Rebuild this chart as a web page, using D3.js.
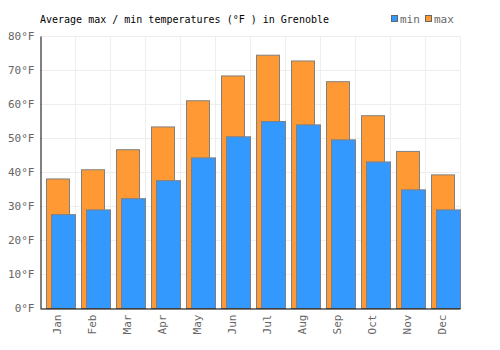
<!DOCTYPE html>
<html>
<head>
<meta charset="utf-8">
<script src="https://cdn.jsdelivr.net/npm/d3@7"></script>
<style>
  body { margin: 0; background: #fff; }
  text { font-family: "DejaVu Sans Mono", monospace; }
</style>
</head>
<body>
<div id="chart-area"></div>
<script>
// data
let months = ["Jan","Feb","Mar","Apr","May","Jun","Jul","Aug","Sep","Oct","Nov","Dec"];
let maxTemps = [38.1, 40.8, 46.7, 53.4, 61.1, 68.4, 74.5, 72.8, 66.7, 56.7, 46.2, 39.3];
let minTemps = [27.6, 29.0, 32.3, 37.6, 44.3, 50.5, 55.0, 54.0, 49.6, 43.1, 34.9, 29.0];
let yTicks = [0, 10, 20, 30, 40, 50, 60, 70, 80];

let width = 500,
	height = 350;

let plotLeft = 40, plotRight = 460, plotTop = 36, plotBottom = 308;

let svg = d3.select("#chart-area")
	.append("svg")
	.attr("width", width)
	.attr("height", height);

let x = d3.scaleBand()
	.domain(months)
	.range([plotLeft, plotRight]);

let y = d3.scaleLinear()
	.domain([0, 80])
	.range([plotBottom, plotTop]);

// grid
svg.append("g")
	.selectAll("line")
	.data(yTicks)
	.enter()
	.append("line")
	.attr("x1", plotLeft).attr("x2", plotRight)
	.attr("y1", d => y(d) + 0.5).attr("y2", d => y(d) + 0.5)
	.attr("stroke", "#eeeeee");

svg.append("g")
	.selectAll("line")
	.data(months)
	.enter()
	.append("line")
	.attr("x1", d => x(d) + x.bandwidth() + 0.5)
	.attr("x2", d => x(d) + x.bandwidth() + 0.5)
	.attr("y1", plotTop).attr("y2", plotBottom)
	.attr("stroke", "#eeeeee");

// max bars
svg.append("g")
	.selectAll("rect")
	.data(months)
	.enter()
	.append("rect")
	.attr("x", d => x(d) + 6.5)
	.attr("y", (d, i) => y(maxTemps[i]) + 0.5)
	.attr("width", 23)
	.attr("height", (d, i) => plotBottom - y(maxTemps[i]))
	.attr("fill", "#ff9933")
	.attr("stroke", "#808080");

// min bars
svg.append("g")
	.selectAll("rect")
	.data(months)
	.enter()
	.append("rect")
	.attr("x", d => x(d) + 11.5)
	.attr("y", (d, i) => y(minTemps[i]) + 0.5)
	.attr("width", 24)
	.attr("height", (d, i) => plotBottom - y(minTemps[i]))
	.attr("fill", "#3399ff")
	.attr("stroke", "#808080");

// axes
let yAxis = d3.axisLeft(y)
	.tickValues(yTicks)
	.tickSize(0)
	.tickPadding(6)
	.tickFormat(d => d + "°F");

svg.append("g")
	.attr("class", "axis y-axis")
	.attr("transform", "translate(" + (plotLeft + 0.5) + ",0)")
	.call(yAxis)
	.call(g => g.select(".domain").attr("stroke", "#000"))
	.call(g => g.selectAll("text").attr("fill", "#666").style("font-size", "11px")
		.style("font-family", "'DejaVu Sans Mono', monospace"));

let xAxis = d3.axisBottom(x)
	.tickSize(0)
	.tickPadding(6);

svg.append("g")
	.attr("class", "axis x-axis")
	.attr("transform", "translate(0," + (plotBottom + 0.5) + ")")
	.call(xAxis)
	.call(g => g.select(".domain").attr("stroke", "#000"))
	.call(g => g.selectAll("text")
		.attr("fill", "#666")
		.style("font-size", "11px")
		.style("font-family", "'DejaVu Sans Mono', monospace")
		.attr("transform", "rotate(-90)")
		.attr("x", -6)
		.attr("y", 0)
		.attr("dy", "0.35em")
		.style("text-anchor", "end"));

// title
svg.append("text")
	.text("Average max / min temperatures (°F ) in Grenoble")
	.attr("x", 40)
	.attr("y", 23)
	.style("font-size", "10px")
	.attr("fill", "#000");

// legend
let legend = [["min", "#3399ff", 391], ["max", "#ff9933", 425]];
legend.forEach(l => {
	svg.append("rect")
		.attr("x", l[2] + 0.5).attr("y", 15.5)
		.attr("width", 6).attr("height", 6)
		.attr("fill", l[1]).attr("stroke", "#666");
	svg.append("text")
		.text(l[0])
		.attr("x", l[2] + 9)
		.attr("y", 23)
		.attr("fill", "#666")
		.style("font-size", "11px");
});
</script>
</body>
</html>
